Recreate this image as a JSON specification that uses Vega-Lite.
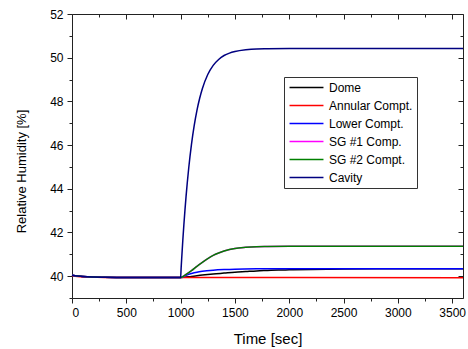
{
  "$schema": "https://vega.github.io/schema/vega-lite/v6.json",
  "width": 391,
  "height": 284,
  "autosize": {"type": "none"},
  "padding": {"left": 72, "top": 14, "right": 5, "bottom": 51},
  "background": "white",
  "config": {
    "view": {"stroke": null},
    "font": "Liberation Sans",
    "axis": {"grid": false, "domainColor": "#222222", "tickColor": "#222222", "labelColor": "black", "titleColor": "black", "labelFont": "Liberation Sans", "titleFont": "Liberation Sans", "labelFontSize": 12, "titleFontSize": 13, "titleFontWeight": "normal", "domainWidth": 1, "tickWidth": 1}
  },
  "datasets": {
    "d": [
      {"s": "Dome", "t": 0, "v": 40.04}, {"s": "Dome", "t": 50, "v": 40.01}, {"s": "Dome", "t": 100, "v": 39.985}, {"s": "Dome", "t": 200, "v": 39.96}, {"s": "Dome", "t": 300, "v": 39.95}, {"s": "Dome", "t": 500, "v": 39.94}, {"s": "Dome", "t": 1000, "v": 39.94},
      {"s": "Dome", "t": 1100, "v": 39.99}, {"s": "Dome", "t": 1200, "v": 40.05}, {"s": "Dome", "t": 1300, "v": 40.10}, {"s": "Dome", "t": 1400, "v": 40.14}, {"s": "Dome", "t": 1500, "v": 40.18}, {"s": "Dome", "t": 1600, "v": 40.21}, {"s": "Dome", "t": 1700, "v": 40.24}, {"s": "Dome", "t": 1800, "v": 40.26}, {"s": "Dome", "t": 1900, "v": 40.28}, {"s": "Dome", "t": 2000, "v": 40.29}, {"s": "Dome", "t": 2200, "v": 40.31}, {"s": "Dome", "t": 2500, "v": 40.33}, {"s": "Dome", "t": 3000, "v": 40.34}, {"s": "Dome", "t": 3600, "v": 40.34},

      {"s": "Annular Compt.", "t": 0, "v": 40.02}, {"s": "Annular Compt.", "t": 50, "v": 39.98}, {"s": "Annular Compt.", "t": 100, "v": 39.96}, {"s": "Annular Compt.", "t": 200, "v": 39.95}, {"s": "Annular Compt.", "t": 300, "v": 39.94}, {"s": "Annular Compt.", "t": 1000, "v": 39.94}, {"s": "Annular Compt.", "t": 2000, "v": 39.935}, {"s": "Annular Compt.", "t": 3600, "v": 39.93},

      {"s": "Lower Compt.", "t": 0, "v": 40.04}, {"s": "Lower Compt.", "t": 50, "v": 40.01}, {"s": "Lower Compt.", "t": 100, "v": 39.985}, {"s": "Lower Compt.", "t": 200, "v": 39.96}, {"s": "Lower Compt.", "t": 300, "v": 39.95}, {"s": "Lower Compt.", "t": 500, "v": 39.94}, {"s": "Lower Compt.", "t": 1000, "v": 39.94},
      {"s": "Lower Compt.", "t": 1050, "v": 40.04}, {"s": "Lower Compt.", "t": 1100, "v": 40.12}, {"s": "Lower Compt.", "t": 1150, "v": 40.18}, {"s": "Lower Compt.", "t": 1200, "v": 40.22}, {"s": "Lower Compt.", "t": 1300, "v": 40.27}, {"s": "Lower Compt.", "t": 1400, "v": 40.30}, {"s": "Lower Compt.", "t": 1500, "v": 40.32}, {"s": "Lower Compt.", "t": 1700, "v": 40.335}, {"s": "Lower Compt.", "t": 2000, "v": 40.34}, {"s": "Lower Compt.", "t": 3600, "v": 40.34},

      {"s": "SG #1 Comp.", "t": 0, "v": 40.04}, {"s": "SG #1 Comp.", "t": 50, "v": 40.01}, {"s": "SG #1 Comp.", "t": 100, "v": 39.985}, {"s": "SG #1 Comp.", "t": 200, "v": 39.96}, {"s": "SG #1 Comp.", "t": 300, "v": 39.95}, {"s": "SG #1 Comp.", "t": 500, "v": 39.94}, {"s": "SG #1 Comp.", "t": 1000, "v": 39.94},
      {"s": "SG #1 Comp.", "t": 1050, "v": 40.08}, {"s": "SG #1 Comp.", "t": 1100, "v": 40.25}, {"s": "SG #1 Comp.", "t": 1150, "v": 40.45}, {"s": "SG #1 Comp.", "t": 1200, "v": 40.63}, {"s": "SG #1 Comp.", "t": 1250, "v": 40.80}, {"s": "SG #1 Comp.", "t": 1300, "v": 40.95}, {"s": "SG #1 Comp.", "t": 1350, "v": 41.06}, {"s": "SG #1 Comp.", "t": 1400, "v": 41.15}, {"s": "SG #1 Comp.", "t": 1450, "v": 41.22}, {"s": "SG #1 Comp.", "t": 1500, "v": 41.27}, {"s": "SG #1 Comp.", "t": 1600, "v": 41.32}, {"s": "SG #1 Comp.", "t": 1700, "v": 41.35}, {"s": "SG #1 Comp.", "t": 1800, "v": 41.36}, {"s": "SG #1 Comp.", "t": 2000, "v": 41.37}, {"s": "SG #1 Comp.", "t": 3600, "v": 41.37},

      {"s": "SG #2 Compt.", "t": 0, "v": 40.04}, {"s": "SG #2 Compt.", "t": 50, "v": 40.01}, {"s": "SG #2 Compt.", "t": 100, "v": 39.985}, {"s": "SG #2 Compt.", "t": 200, "v": 39.96}, {"s": "SG #2 Compt.", "t": 300, "v": 39.95}, {"s": "SG #2 Compt.", "t": 500, "v": 39.94}, {"s": "SG #2 Compt.", "t": 1000, "v": 39.94},
      {"s": "SG #2 Compt.", "t": 1050, "v": 40.08}, {"s": "SG #2 Compt.", "t": 1100, "v": 40.25}, {"s": "SG #2 Compt.", "t": 1150, "v": 40.45}, {"s": "SG #2 Compt.", "t": 1200, "v": 40.63}, {"s": "SG #2 Compt.", "t": 1250, "v": 40.80}, {"s": "SG #2 Compt.", "t": 1300, "v": 40.95}, {"s": "SG #2 Compt.", "t": 1350, "v": 41.06}, {"s": "SG #2 Compt.", "t": 1400, "v": 41.15}, {"s": "SG #2 Compt.", "t": 1450, "v": 41.22}, {"s": "SG #2 Compt.", "t": 1500, "v": 41.27}, {"s": "SG #2 Compt.", "t": 1600, "v": 41.32}, {"s": "SG #2 Compt.", "t": 1700, "v": 41.35}, {"s": "SG #2 Compt.", "t": 1800, "v": 41.36}, {"s": "SG #2 Compt.", "t": 2000, "v": 41.37}, {"s": "SG #2 Compt.", "t": 3600, "v": 41.37},

      {"s": "Cavity", "t": 0, "v": 40.04}, {"s": "Cavity", "t": 50, "v": 40.01}, {"s": "Cavity", "t": 100, "v": 39.985}, {"s": "Cavity", "t": 200, "v": 39.96}, {"s": "Cavity", "t": 300, "v": 39.95}, {"s": "Cavity", "t": 500, "v": 39.94}, {"s": "Cavity", "t": 1000, "v": 39.94},
      {"s": "Cavity", "t": 1005, "v": 40.39}, {"s": "Cavity", "t": 1010, "v": 40.81}, {"s": "Cavity", "t": 1020, "v": 41.62}, {"s": "Cavity", "t": 1030, "v": 42.35}, {"s": "Cavity", "t": 1040, "v": 43.02}, {"s": "Cavity", "t": 1050, "v": 43.64}, {"s": "Cavity", "t": 1075, "v": 44.96}, {"s": "Cavity", "t": 1100, "v": 46.03}, {"s": "Cavity", "t": 1125, "v": 46.89}, {"s": "Cavity", "t": 1150, "v": 47.58}, {"s": "Cavity", "t": 1175, "v": 48.13}, {"s": "Cavity", "t": 1200, "v": 48.58}, {"s": "Cavity", "t": 1250, "v": 49.23}, {"s": "Cavity", "t": 1300, "v": 49.65}, {"s": "Cavity", "t": 1350, "v": 49.92}, {"s": "Cavity", "t": 1400, "v": 50.10}, {"s": "Cavity", "t": 1450, "v": 50.21}, {"s": "Cavity", "t": 1500, "v": 50.28}, {"s": "Cavity", "t": 1600, "v": 50.36}, {"s": "Cavity", "t": 1700, "v": 50.40}, {"s": "Cavity", "t": 1800, "v": 50.41}, {"s": "Cavity", "t": 2000, "v": 50.42}, {"s": "Cavity", "t": 3600, "v": 50.42}
    ]
  },
  "data": {"name": "d"},
  "layer": [
    {
      "mark": {"type": "line", "strokeWidth": 1.5, "interpolate": "monotone"},
      "encoding": {
        "x": {"field": "t", "type": "quantitative", "scale": {"domain": [0, 3600], "nice": false, "zero": false},
          "axis": {"orient": "bottom", "values": [0, 500, 1000, 1500, 2000, 2500, 3000, 3500], "format": "d", "tickSize": 5, "labelPadding": 4, "title": "Time [sec]", "titleBaseline": "alphabetic", "titleY": 45, "titleFontSize": 15}},
        "y": {"field": "v", "type": "quantitative", "scale": {"domain": [39, 52], "nice": false, "zero": false},
          "axis": {"orient": "left", "values": [40, 42, 44, 46, 48, 50, 52], "format": "d", "tickSize": 5, "labelPadding": 4, "title": "Relative Humidity [%]", "titleBaseline": "middle", "titleX": -51, "titleY": 157, "titleFontSize": 13}},
        "color": {"field": "s", "type": "nominal",
          "scale": {"domain": ["Dome", "Annular Compt.", "Lower Compt.", "SG #1 Comp.", "SG #2 Compt.", "Cavity"], "range": ["#000000", "#ff0000", "#0000ff", "#ff00ff", "#008000", "#000080"]},
          "legend": {"title": null, "orient": "none", "legendX": 212, "legendY": 63, "symbolType": "M-3,0H3", "symbolSize": 128, "symbolStrokeWidth": 1.5, "labelFontSize": 12, "labelFont": "Liberation Sans", "labelColor": "black", "strokeColor": "#333333", "fillColor": "white", "padding": 4, "rowPadding": 5, "labelOffset": 16, "symbolOffset": 12}}
      }
    },
    {
      "mark": {"type": "line", "strokeOpacity": 0},
      "encoding": {
        "x": {"field": "t", "type": "quantitative", "axis": {"orient": "bottom", "values": [250, 750, 1250, 1750, 2250, 2750, 3250], "tickSize": 3, "labels": false, "domain": false, "title": null}},
        "y": {"field": "v", "type": "quantitative", "axis": {"orient": "left", "values": [39, 41, 43, 45, 47, 49, 51], "tickSize": 3, "labels": false, "domain": false, "title": null}}
      }
    },
    {
      "mark": {"type": "line", "strokeOpacity": 0},
      "encoding": {
        "x": {"field": "t", "type": "quantitative", "axis": {"orient": "top", "values": [0, 500, 1000, 1500, 2000, 2500, 3000, 3500], "tickSize": -5, "labels": false, "domain": true, "title": null}},
        "y": {"field": "v", "type": "quantitative", "axis": {"orient": "right", "values": [40, 42, 44, 46, 48, 50, 52], "tickSize": -5, "labels": false, "domain": true, "title": null}}
      }
    },
    {
      "mark": {"type": "line", "strokeOpacity": 0},
      "encoding": {
        "x": {"field": "t", "type": "quantitative", "axis": {"orient": "top", "values": [250, 750, 1250, 1750, 2250, 2750, 3250], "tickSize": -3, "labels": false, "domain": false, "title": null}},
        "y": {"field": "v", "type": "quantitative", "axis": {"orient": "right", "values": [39, 41, 43, 45, 47, 49, 51], "tickSize": -3, "labels": false, "domain": false, "title": null}}
      }
    }
  ],
  "resolve": {"axis": {"x": "independent", "y": "independent"}}
}
